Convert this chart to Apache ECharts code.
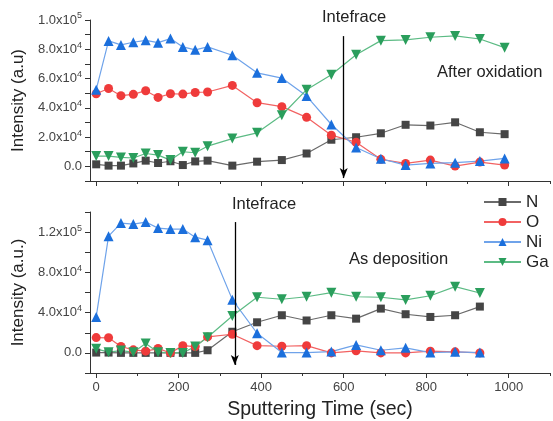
<!DOCTYPE html>
<html>
<head>
<meta charset="utf-8">
<script src="https://cdn.jsdelivr.net/npm/echarts@6/dist/echarts.min.js"></script>
<style>
  html, body { margin: 0; padding: 0; background: #fff; }
  #chart { width: 553px; height: 421px; }
</style>
</head>
<body>
<div id="chart"></div>
<script>
// sputtering times (sec)
const timesTop = [0, 30, 60, 90, 120, 150, 180, 210, 240, 270, 330, 390, 450, 510, 570, 630, 690, 750, 810, 870, 930, 990];
const timesBottom = [0, 30, 60, 90, 120, 150, 180, 210, 240, 270, 330, 390, 450, 510, 570, 630, 690, 750, 810, 870, 930];

// After oxidation (top panel)
const topN  = [1400, 500, 500, 2000, 3900, 2300, 3500, 900, 3400, 3900, 500, 3200, 4300, 8800, 18200, 19900, 22600, 28400, 27900, 30100, 23300, 22000];
const topO  = [49600, 53200, 48300, 49200, 51700, 47100, 49600, 49400, 50500, 50800, 55300, 43500, 40800, 33500, 21300, 16500, 4800, 2000, 4300, 200, 2900, 900];
const topNi = [52400, 85700, 83000, 84800, 86100, 84500, 87300, 81600, 79600, 81600, 75900, 63900, 60300, 48000, 28600, 12900, 5200, 900, 2000, 2500, 3600, 5400];
const topGa = [7000, 7000, 6100, 5700, 8800, 7700, 4300, 10000, 9300, 13800, 19000, 22900, 34900, 52400, 62600, 76200, 85900, 86400, 88200, 89100, 87000, 81100];

// As deposition (bottom panel)
const botN  = [300, 300, 0, 0, 0, 0, 0, 0, 0, 2600, 21000, 30400, 37400, 32200, 37400, 34000, 44000, 38400, 35700, 37400, 46000];
const botO  = [15200, 15000, 6300, 3000, 1700, 4300, 0, 7200, 6300, 15900, 18500, 7200, 6600, 7200, 0, 2000, 0, 0, 1700, 1000, 0];
const botNi = [35700, 116000, 129000, 128000, 130000, 124000, 123000, 123000, 115000, 112000, 52900, 19500, 300, 300, 1300, 7900, 2600, 5000, 300, 1000, 300];
const botGa = [4000, 700, 2300, 700, 9200, 700, 0, 0, 6300, 15600, 36700, 55300, 53300, 55800, 59800, 55800, 55300, 52600, 56800, 65800, 59500];

// interface arrows: [x, yStart, yEnd]
const arrowTop = [600, 89000, -8000];
const arrowBottom = [336, 130000, -12000];

const xTicks = [0, 200, 400, 600, 800, 1000];
const xMinorTicks = [100, 300, 500, 700, 900, 1100];
const yTopTicks = [0, 20000, 40000, 60000, 80000, 100000];
const yTopMinor = [-10000, 10000, 30000, 50000, 70000, 90000];
const yBotTicks = [0, 40000, 80000, 120000];
const yBotMinor = [-20000, 20000, 60000, 100000, 140000];

const FONT = 'Liberation Sans, Arial, sans-serif';

function sciLabel(v) {
    if (v === 0) return '0.0';
    const e = Math.floor(Math.log10(v));
    const m = (v / Math.pow(10, e)).toFixed(1);
    return m + 'x10{s|' + e + '}';
}

function pairs(xs, ys) {
    return xs.map((x, i) => [x, ys[i]]);
}

const styles = {
    N:  { symbol: 'rect', size: 8, item: '#454545', line: '#6a6a6a' },
    O:  { symbol: 'circle', size: 9, item: '#ef3b3b', line: '#f26262' },
    Ni: { symbol: 'triangle', size: 10, item: '#1b6fdc', line: '#6fa3ea' },
    Ga: { symbol: 'path://M0,0 L10,0 L5,9 Z', size: 10, item: '#2a9e5c', line: '#5cbb84' }
};

function mkSeries(name, xs, ys, idx) {
    const st = styles[name];
    return {
        name: name,
        type: 'line',
        xAxisIndex: idx * 2,
        yAxisIndex: idx,
        data: pairs(xs, ys),
        symbol: st.symbol,
        symbolSize: st.size,
        itemStyle: { color: st.item },
        lineStyle: { color: st.line, width: 1.2 },
        emphasis: { disabled: true },
        animation: false
    };
}

function arrowLine(a) {
    return {
        silent: true,
        animation: false,
        label: { show: false },
        lineStyle: { color: '#000', width: 1.3, type: 'solid' },
        symbolSize: [6, 10],
        data: [[
            { coord: [a[0], a[1]], symbol: 'none' },
            { coord: [a[0], a[2]], symbol: 'arrow' }
        ]]
    };
}

const axisLine = { show: true, onZero: false, lineStyle: { color: '#333', width: 1 } };

function xAxisPair(gridIndex, showName) {
    return [
        {
            type: 'value', gridIndex: gridIndex, min: -15, max: 1100, position: 'bottom',
            axisLine: axisLine,
            axisTick: { show: true, length: 5, customValues: xTicks, lineStyle: { color: '#333' } },
            axisLabel: {
                show: showName, customValues: xTicks, formatter: v => String(v),
                color: '#444', fontSize: 13, fontFamily: FONT, margin: 8
            },
            splitLine: { show: false },
            name: showName ? 'Sputtering Time (sec)' : '',
            nameLocation: 'middle', nameGap: 27,
            nameTextStyle: { fontSize: 19.5, color: '#222', fontFamily: FONT }
        },
        {
            // minor ticks only
            type: 'value', gridIndex: gridIndex, min: -15, max: 1100, position: 'bottom',
            axisLine: { show: false, onZero: false },
            axisTick: { show: true, length: 3, customValues: xMinorTicks, lineStyle: { color: '#333' } },
            axisLabel: { show: false },
            splitLine: { show: false }
        }
    ];
}

function yAxis(gridIndex, min, max, ticks, minor, name) {
    return {
        type: 'value', gridIndex: gridIndex, min: min, max: max,
        axisLine: axisLine,
        axisTick: { show: true, length: 5, customValues: ticks.concat(minor), lineStyle: { color: '#333' } },
        axisLabel: {
            customValues: ticks, formatter: sciLabel, color: '#444', fontSize: 13, fontFamily: FONT, margin: 8,
            rich: { s: { fontSize: 9, verticalAlign: 'top', padding: [0, 0, 8, 0], color: '#444', fontFamily: FONT } }
        },
        splitLine: { show: false },
        name: name, nameLocation: 'middle', nameGap: 54,
        nameTextStyle: { fontSize: 17, color: '#222', fontFamily: FONT }
    };
}

const chart = echarts.init(document.getElementById('chart'));

const sTop = [
    mkSeries('N', timesTop, topN, 0),
    mkSeries('O', timesTop, topO, 0),
    mkSeries('Ni', timesTop, topNi, 0),
    mkSeries('Ga', timesTop, topGa, 0)
];
sTop[0].markLine = arrowLine(arrowTop);
const sBot = [
    mkSeries('N', timesBottom, botN, 1),
    mkSeries('O', timesBottom, botO, 1),
    mkSeries('Ni', timesBottom, botNi, 1),
    mkSeries('Ga', timesBottom, botGa, 1)
];
sBot[0].markLine = arrowLine(arrowBottom);

const option = {
    backgroundColor: '#fff',
    animation: false,
    grid: [
        { left: 90, right: 3, top: 20, height: 161 },
        { left: 90, right: 3, top: 212, height: 162 }
    ],
    xAxis: xAxisPair(0, false).concat(xAxisPair(1, true)),
    yAxis: [
        yAxis(0, -10000, 100000, yTopTicks, yTopMinor, 'Intensity (a.u)'),
        yAxis(1, -20000, 140000, yBotTicks, yBotMinor, 'Intensity (a.u.)')
    ],
    legend: {
        data: ['N', 'O', 'Ni', 'Ga'],
        orient: 'vertical',
        align: 'left',
        left: 483, top: 193, padding: 0,
        itemWidth: 37, itemHeight: 10, itemGap: 2,
        textStyle: { fontSize: 17, lineHeight: 18, color: '#222', fontFamily: FONT },
        selectedMode: false
    },
    graphic: [
        { type: 'text', left: 322, top: 9, style: { text: 'Intefrace', fontSize: 16.5, fill: '#222', fontFamily: FONT } },
        { type: 'text', left: 437, top: 64, style: { text: 'After oxidation', fontSize: 16.5, fill: '#222', fontFamily: FONT } },
        { type: 'text', left: 232, top: 196, style: { text: 'Intefrace', fontSize: 16.5, fill: '#222', fontFamily: FONT } },
        { type: 'text', left: 349, top: 251, style: { text: 'As deposition', fontSize: 16.5, fill: '#222', fontFamily: FONT } }
    ],
    series: sTop.concat(sBot)
};

chart.setOption(option);
</script>
</body>
</html>
